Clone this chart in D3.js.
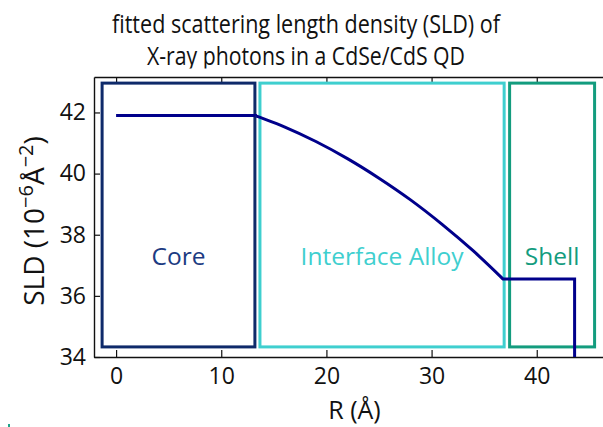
<!DOCTYPE html>
<html>
<head>
<meta charset="utf-8">
<script src="https://cdn.jsdelivr.net/npm/d3@7"></script>
<style>
  body { margin: 0; background: #fff; }
  text { font-family: "Open Sans", "Noto Sans", sans-serif; }
</style>
</head>
<body>
<div id="chart"></div>
<script>
// data
var titleLines = ["fitted scattering length density (SLD) of", "X-ray photons in a CdSe/CdS QD"];
var xTicks = [0, 10, 20, 30, 40];
var yTicks = [34, 36, 38, 40, 42];

// SLD profile (R in Å, SLD in 1e-6 Å^-2)
var profileR   = [0,    13.2, 16,    19,    22,    25,    28,    31,    34,    36.8,  43.6,  43.6];
var profileSLD = [41.9, 41.9, 41.53, 41.05, 40.49, 39.85, 39.14, 38.34, 37.46, 36.55, 36.55, 33.0];

// regions
var regionNames = ["Core", "Interface Alloy", "Shell"];
var regionStart = [-1.33, 13.68, 37.42];
var regionEnd   = [13.2, 36.9, 45.5];
var regionColors = ["#0e2a6a", "#3fcfcf", "#139c7e"];

// basic setup
var svgWidth = 603;
var svgHeight = 427;
var margin = { top: 77, right: 0, bottom: 70, left: 94 };
var width = svgWidth - margin.left - margin.right;
var height = svgHeight - margin.top - margin.bottom;

var svg = d3.select("#chart")
  .append("svg")
  .attr("width", svgWidth)
  .attr("height", svgHeight);

// title, cut off just above the axes like the reference
svg.append("clipPath").attr("id", "titleClip")
  .append("rect").attr("x", 0).attr("y", 0).attr("width", svgWidth).attr("height", 68.5);

var titleG = svg.append("g").attr("clip-path", "url(#titleClip)");
var titleLens = [388, 318];
titleLines.forEach(function(t, i) {
  titleG.append("text")
    .attr("x", 306)
    .attr("y", 33 + i * 32)
    .attr("text-anchor", "middle")
    .attr("font-size", "25px")
    .attr("fill", "#111")
    .attr("textLength", titleLens[i])
    .attr("lengthAdjust", "spacingAndGlyphs")
    .text(t);
});

var chartGroup = svg.append("g")
  .attr("transform", `translate(${margin.left}, ${margin.top})`);

var x = d3.scaleLinear().domain([-2.1, 46.3]).range([0, width]);
var y = d3.scaleLinear().domain([34, 43.16]).range([height, 0]);

chartGroup.append("clipPath").attr("id", "plotClip")
  .append("rect").attr("width", width).attr("height", height);

// axes (ticks point inward)
var bottomAxis = d3.axisBottom(x).tickValues(xTicks).tickSizeInner(-7).tickSizeOuter(0).tickPadding(11);
var topAxis = d3.axisTop(x).tickValues(xTicks).tickSizeInner(-7).tickSizeOuter(0).tickFormat("");
var leftAxis = d3.axisLeft(y).tickValues(yTicks).tickSizeInner(-6).tickSizeOuter(0).tickPadding(8);

var gx = chartGroup.append("g")
  .attr("transform", `translate(0, ${height})`)
  .call(bottomAxis);
var gt = chartGroup.append("g").call(topAxis);
var gy = chartGroup.append("g").call(leftAxis);

[gx, gt, gy].forEach(function(g) {
  g.select(".domain").attr("stroke", "#111").attr("stroke-width", 1.4);
  g.selectAll(".tick line").attr("stroke", "#111").attr("stroke-width", 1.2);
  g.selectAll(".tick text")
    .attr("fill", "#111")
    .style("font-family", "'Open Sans', sans-serif")
    .style("font-size", "23px");
});

// region boxes
var boxBottom = 34.33, boxTop = 42.96;
chartGroup.selectAll("rect.region")
  .data(regionNames)
  .enter()
  .append("rect")
  .classed("region", true)
  .attr("x", (d, i) => x(regionStart[i]))
  .attr("y", y(boxTop))
  .attr("width", (d, i) => x(regionEnd[i]) - x(regionStart[i]))
  .attr("height", y(boxBottom) - y(boxTop))
  .attr("fill", "none")
  .attr("stroke", (d, i) => regionColors[i])
  .attr("stroke-width", 3);

// region labels
chartGroup.selectAll("text.region-label")
  .data(regionNames)
  .enter()
  .append("text")
  .classed("region-label", true)
  .attr("x", (d, i) => x((regionStart[i] + regionEnd[i]) / 2))
  .attr("y", y(37.0))
  .attr("text-anchor", "middle")
  .attr("font-size", "24.5px")
  .attr("fill", (d, i) => i === 0 ? "#1c3b82" : regionColors[i])
  .text(d => d);

// SLD profile line: straight plateaus, smooth alloy part
var straight = d3.line().x(d => x(d[0])).y(d => y(d[1]));
var smooth = d3.line().x(d => x(d[0])).y(d => y(d[1])).curve(d3.curveCatmullRom);
var pts = profileR.map((r, i) => [r, profileSLD[i]]);

chartGroup.append("path")
  .attr("clip-path", "url(#plotClip)")
  .attr("d", straight(pts.slice(0, 2)) +
             smooth(pts.slice(1, 10)).replace(/^M[^C]*/, "L" + x(pts[1][0]) + "," + y(pts[1][1])) +
             straight(pts.slice(9)).replace(/^M/, "L"))
  .attr("fill", "none")
  .attr("stroke", "#00008b")
  .attr("stroke-width", 3);

// x axis label
chartGroup.append("text")
  .attr("x", width / 2 + 6)
  .attr("y", height + 62)
  .attr("text-anchor", "middle")
  .attr("font-size", "25px")
  .attr("fill", "#111")
  .text("R (Å)");

// y axis label
var yl = svg.append("text")
  .attr("transform", "translate(44, 221) rotate(-90)")
  .attr("text-anchor", "middle")
  .attr("font-size", "28px")
  .attr("fill", "#111");
yl.append("tspan").text("SLD (10");
yl.append("tspan").attr("dy", -11).attr("font-size", "20px").text("−6");
yl.append("tspan").attr("dy", 11).text("Å");
yl.append("tspan").attr("dy", -11).attr("font-size", "20px").text("−2");
yl.append("tspan").attr("dy", 11).text(")");

// tiny stray mark in the bottom-left corner of the original
svg.append("rect").attr("x", 8).attr("y", 424).attr("width", 2).attr("height", 3).attr("fill", "#1ea58a");
</script>
</body>
</html>
